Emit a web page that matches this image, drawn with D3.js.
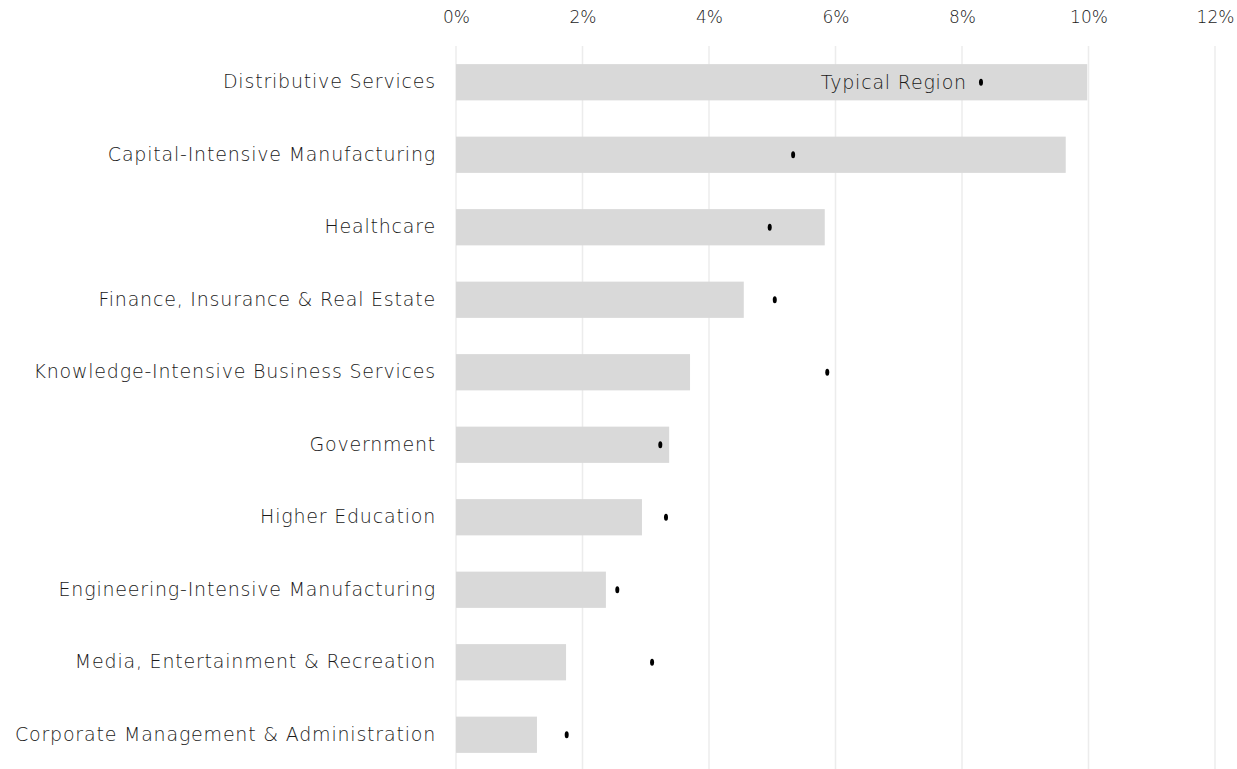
<!DOCTYPE html>
<html>
<head>
<meta charset="utf-8">
<script src="https://cdn.jsdelivr.net/npm/d3@7"></script>
<style>
    body { margin: 0; background: #fff; }
    svg text { font-family: "DejaVu Sans", sans-serif; font-weight: 200; fill: #1a1a1a; }
</style>
</head>
<body>
<div id="chart"></div>
<script>
(function () {
    "use strict";

    // industries, top to bottom
    let categories = [
        "Distributive Services",
        "Capital-Intensive Manufacturing",
        "Healthcare",
        "Finance, Insurance & Real Estate",
        "Knowledge-Intensive Business Services",
        "Government",
        "Higher Education",
        "Engineering-Intensive Manufacturing",
        "Media, Entertainment & Recreation",
        "Corporate Management & Administration"
    ];
    // bar values (%)
    let barValues = [9.98, 9.64, 5.83, 4.55, 3.70, 3.37, 2.94, 2.37, 1.74, 1.28];
    // typical region dots (%)
    let typicalValues = [8.30, 5.33, 4.96, 5.04, 5.87, 3.23, 3.32, 2.55, 3.10, 1.75];
    let tickValues = [0, 2, 4, 6, 8, 10, 12];

    let width = 1237, height = 769;

    let svg = d3.select("#chart").append("svg").attr("width", width).attr("height", height);

    let x = d3.scaleLinear().domain([0, 12]).range([456, 1215]);
    let y = d3.scaleBand().domain(categories).range([46, 771]).paddingInner(0.5).paddingOuter(0.25);

    // gridlines
    svg.append("g")
        .selectAll("line")
        .data(tickValues)
        .enter()
        .append("line")
        .attr("x1", (d) => x(d))
        .attr("x2", (d) => x(d))
        .attr("y1", 46)
        .attr("y2", height)
        .attr("stroke", "#ececec")
        .attr("stroke-width", 1.5);

    // top axis labels
    let xAxis = d3.axisTop(x).tickValues(tickValues).tickSize(0).tickFormat((d) => d + "%");
    let gx = svg.append("g").attr("transform", "translate(0,30)").call(xAxis);
    gx.select(".domain").remove();
    gx.selectAll("text").style("font-size", "17px").attr("dy", "0.32em").attr("y", -12);

    // bars
    svg.append("g")
        .selectAll("rect")
        .data(categories)
        .enter()
        .append("rect")
        .attr("x", x(0))
        .attr("y", (d) => y(d))
        .attr("width", (d, i) => x(barValues[i]) - x(0))
        .attr("height", y.bandwidth())
        .attr("fill", "#d9d9d9");

    // category labels
    let yAxis = d3.axisLeft(y).tickSize(0).tickPadding(20);
    let gy = svg.append("g").attr("transform", "translate(" + x(0) + ",0)").call(yAxis);
    gy.select(".domain").remove();
    gy.selectAll("text").style("font-size", "19px").style("letter-spacing", "0.8px");

    // typical region dots
    svg.append("g")
        .selectAll("ellipse")
        .data(categories)
        .enter()
        .append("ellipse")
        .attr("cx", (d, i) => x(typicalValues[i]))
        .attr("cy", (d) => y(d) + y.bandwidth() / 2)
        .attr("rx", 2)
        .attr("ry", 3.5)
        .attr("fill", "#000");

    svg.append("text")
        .attr("x", x(typicalValues[0]) - 14)
        .attr("y", y(categories[0]) + y.bandwidth() / 2)
        .attr("dy", "0.35em")
        .attr("text-anchor", "end")
        .style("font-size", "19px")
        .style("letter-spacing", "0.8px")
        .text("Typical Region");
})();
</script>
</body>
</html>
